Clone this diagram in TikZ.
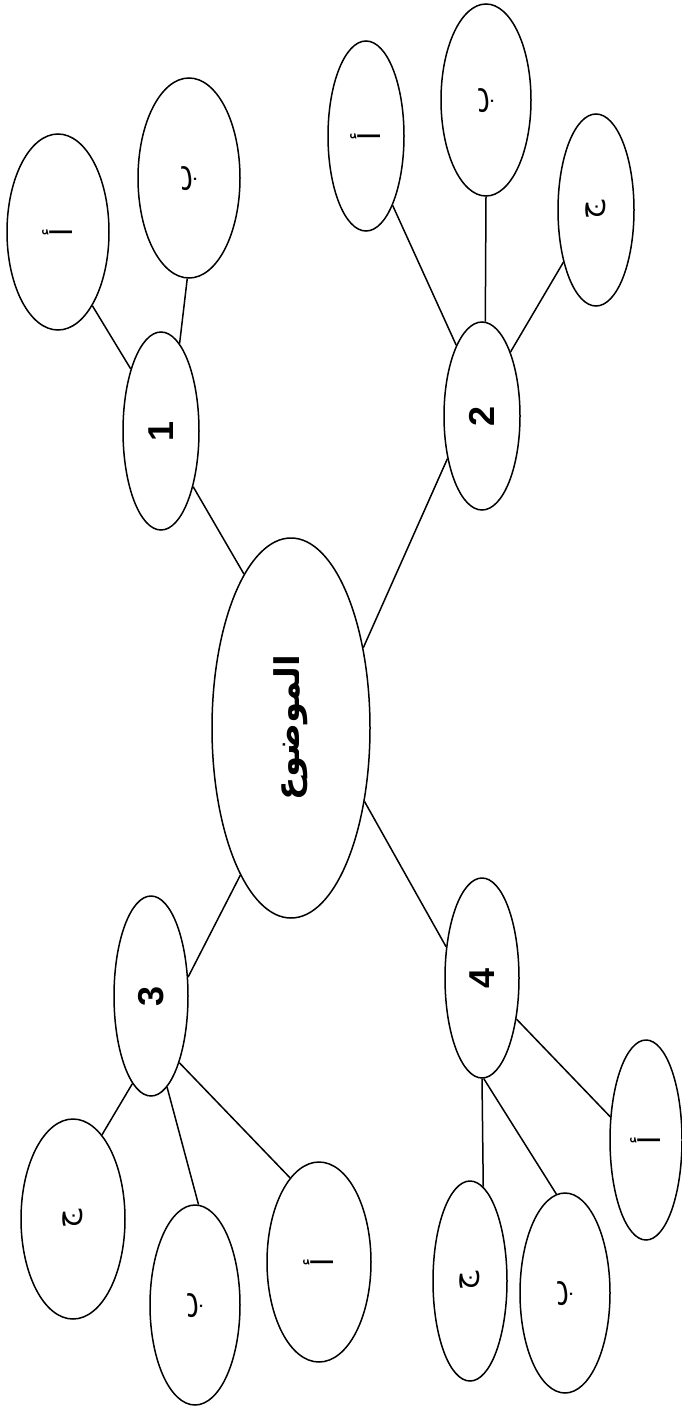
\documentclass[tikz,border=0pt]{standalone}
\usepackage{graphicx}
\usepackage{fontspec}
\TeXXeTstate=1
\newfontfamily\arabicfont[Script=Arabic]{DejaVu Sans}
\newfontfamily\numfont{Liberation Sans}
\usetikzlibrary{shapes.geometric}
\tikzset{
  bub/.style={ellipse, draw, line width=1.5pt, inner sep=0pt, fill=white},
  link/.style={line width=1.5pt},
}
\newcommand{\ar}[2]{\rotatebox{90}{\arabicfont\fontsize{#2}{#2}\selectfont\beginR #1\endR}}
\newcommand{\arb}[2]{\rotatebox{90}{\arabicfont\bfseries\fontsize{#2}{#2}\selectfont\beginR #1\endR}}
\newcommand{\num}[1]{\rotatebox{90}{\numfont\bfseries\fontsize{36}{36}\selectfont #1}}
\begin{document}
\begin{tikzpicture}[x=1pt,y=-1pt]
\useasboundingbox (0,0) rectangle (682,1407);
% centre
\node[bub, minimum width=158pt, minimum height=380pt] (C) at (291,728) {\arb{الموضوع}{34}};
% branch 1
\node[bub, minimum width=76pt, minimum height=198pt] (N1) at (161,431) {\num{1}};
\node[bub, minimum width=102pt, minimum height=196pt] (A1) at (58,232) {\ar{أ}{30}};
\node[bub, minimum width=102pt, minimum height=200pt] (B1) at (189,178) {\ar{ب}{30}};
% branch 2
\node[bub, minimum width=76pt, minimum height=188pt] (N2) at (482,416) {\num{2}};
\node[bub, minimum width=76pt, minimum height=190pt] (A2) at (366,136) {\ar{أ}{30}};
\node[bub, minimum width=90pt, minimum height=192pt] (B2) at (486,100) {\ar{ب}{30}};
\node[bub, minimum width=76pt, minimum height=192pt] (J2) at (596,210) {\ar{ج}{30}};
% branch 3
\node[bub, minimum width=74pt, minimum height=200pt] (N3) at (151,996) {\num{3}};
\node[bub, minimum width=104pt, minimum height=200pt] (J3) at (73,1219) {\ar{ج}{30}};
\node[bub, minimum width=90pt, minimum height=200pt] (B3) at (195,1305) {\ar{ب}{30}};
\node[bub, minimum width=104pt, minimum height=200pt] (A3) at (319,1262) {\ar{أ}{30}};
% branch 4
\node[bub, minimum width=74pt, minimum height=200pt] (N4) at (482,978) {\num{4}};
\node[bub, minimum width=72pt, minimum height=200pt] (A4) at (646,1140) {\ar{أ}{30}};
\node[bub, minimum width=90pt, minimum height=200pt] (B4) at (565,1293) {\ar{ب}{30}};
\node[bub, minimum width=74pt, minimum height=200pt] (J4) at (470,1281) {\ar{ج}{30}};
% connectors
\draw[link] (C.107) -- (N1.-60);
\draw[link] (N1.116) -- (A1.-65);
\draw[link] (N1.78) -- (B1.-91);
\draw[link] (C.48) -- (N2.-129);
\draw[link] (N2.110) -- (A2.-69);
\draw[link] (N2.88) -- (B2.-90);
\draw[link] (N2.66) -- (J2.-122);
\draw[link] (C.-109) -- (N3.27);
\draw[link] (N3.-102) -- (J3.71);
\draw[link] (N3.-80) -- (B3.88);
\draw[link] (N3.-67) -- (A3.109);
\draw[link] (C.-45) -- (N4.139);
\draw[link] (N4.-90) -- (J4.82);
\draw[link] (N4.-89) -- (B4.95);
\draw[link] (N4.-50) -- (A4.147);
\end{tikzpicture}
\end{document}
